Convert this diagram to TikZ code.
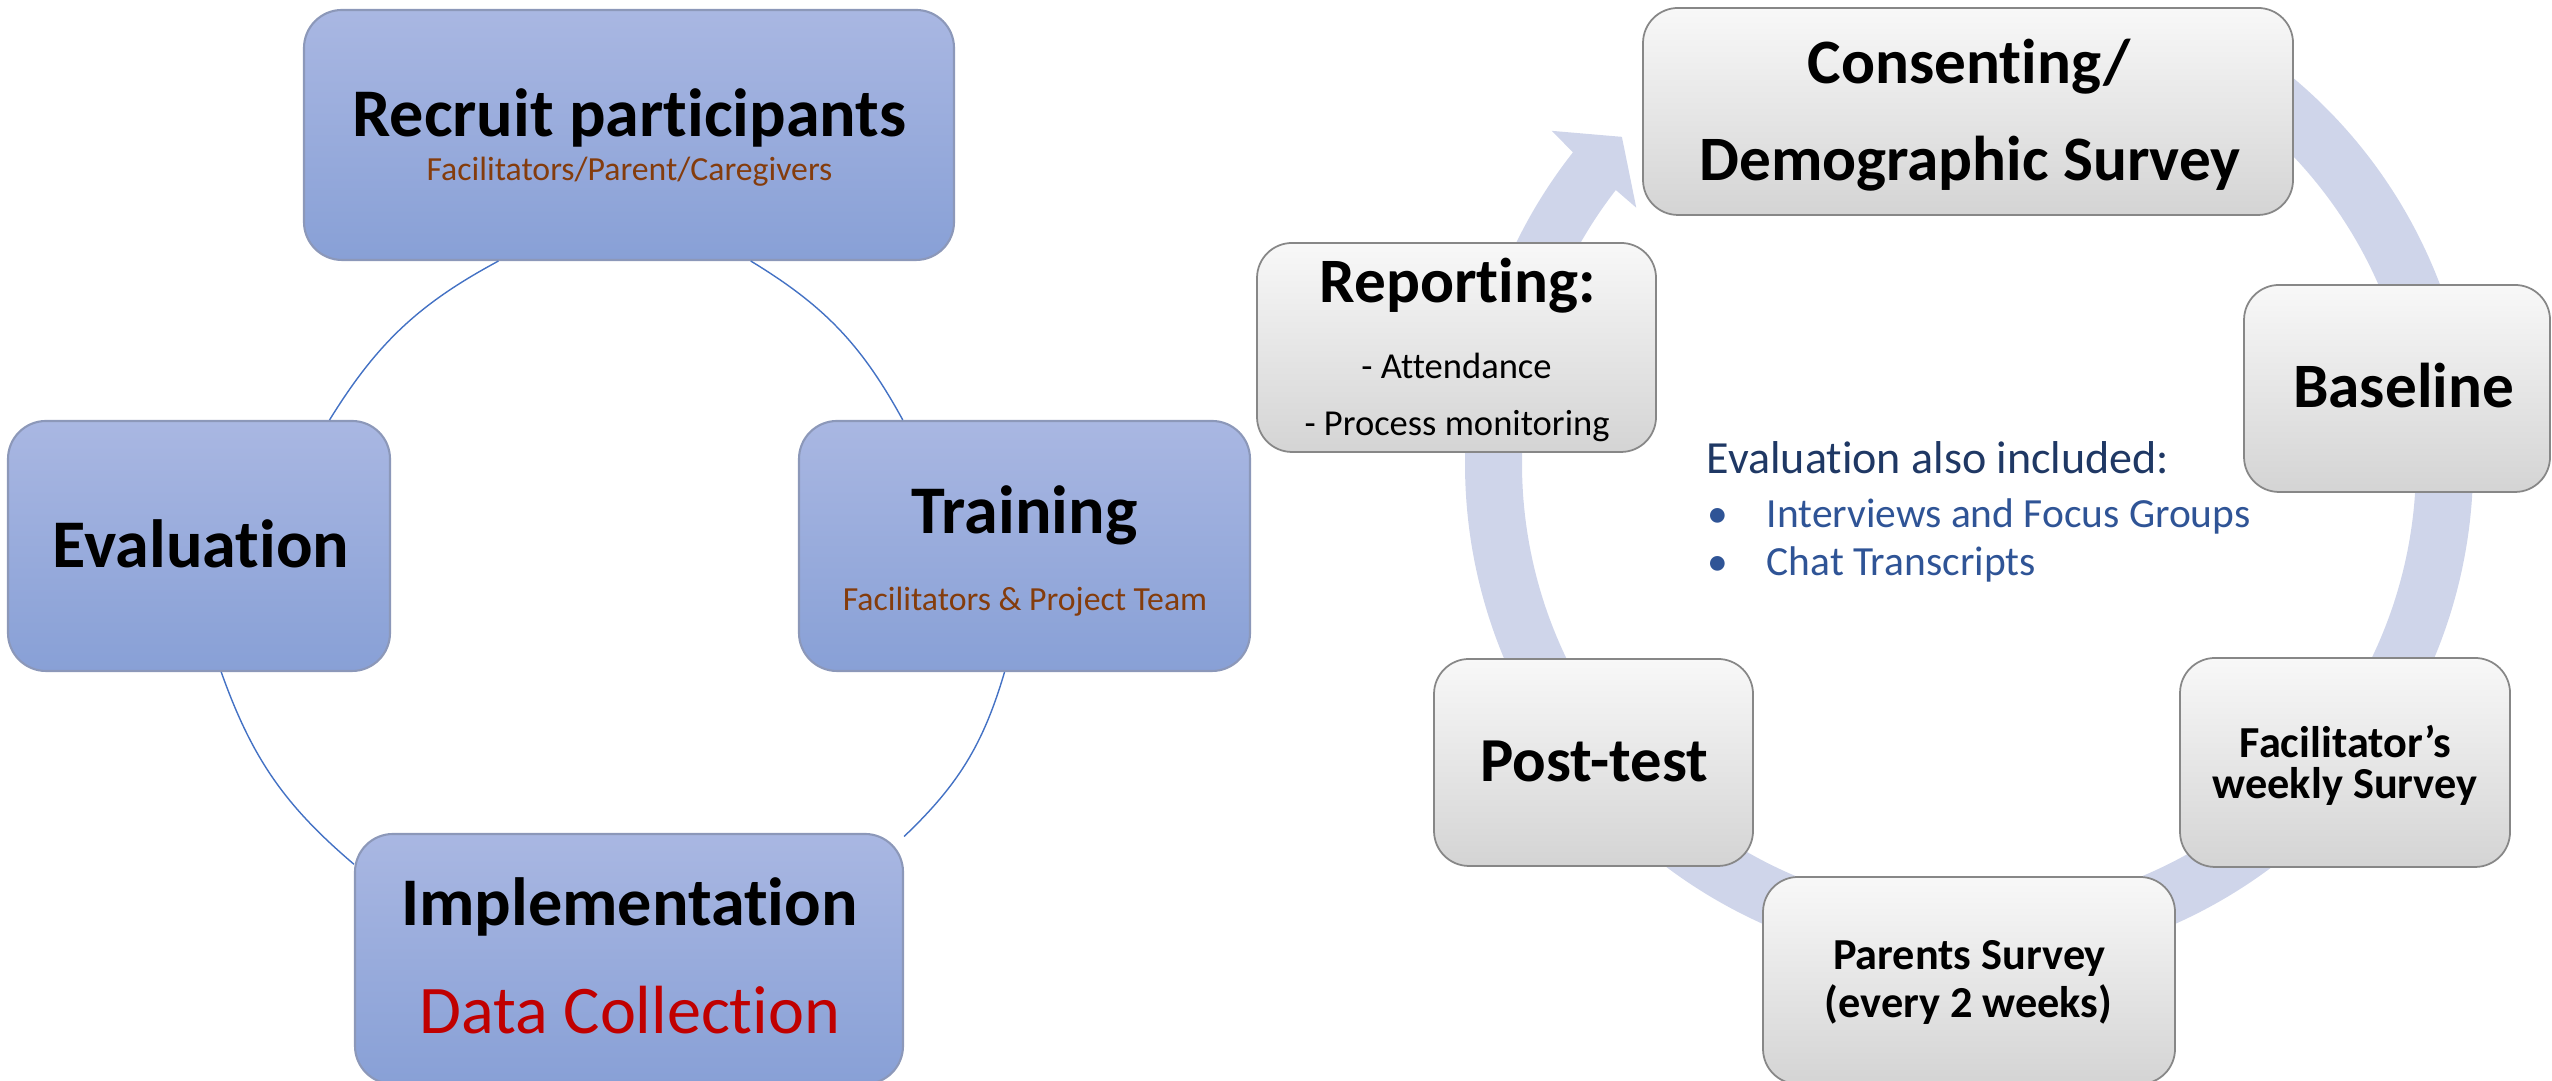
\documentclass[tikz,border=0pt]{standalone}
\usepackage{fontspec}
\setmainfont{Carlito}[Ligatures={TeX,NoCommon}]
\usetikzlibrary{calc}

\definecolor{boxtop}{RGB}{169,183,226}
\definecolor{boxbot}{RGB}{136,160,214}
\definecolor{boxline}{RGB}{140,152,185}
\definecolor{greytop}{RGB}{248,248,248}
\definecolor{greybot}{RGB}{212,212,212}
\definecolor{greyline}{RGB}{135,135,135}
\definecolor{ringfill}{RGB}{207,213,234}
\definecolor{arcblue}{RGB}{68,114,196}
\definecolor{subbrown}{RGB}{132,60,12}
\definecolor{datared}{RGB}{192,0,0}
\definecolor{notenavy}{RGB}{31,56,100}
\definecolor{itemblue}{RGB}{47,84,150}

\begin{document}
\begin{tikzpicture}[
  bluebox/.style={draw=boxline, line width=0.6pt, rounded corners=0.38cm, top color=boxtop, bottom color=boxbot},
  greybox/.style={draw=greyline, line width=0.5pt, rounded corners=0.35cm, top color=greytop, bottom color=greybot},
  cyclearc/.style={draw=arcblue, line width=0.4pt},
  bigbold/.style={anchor=base, inner sep=0pt, font=\bfseries\fontsize{19.4}{23}\selectfont},
  bigplain/.style={anchor=base, inner sep=0pt, font=\fontsize{19.4}{23}\selectfont},
  subtxt/.style={anchor=base, inner sep=0pt, text=subbrown, font=\fontsize{9.6}{12}\selectfont},
  greybig/.style={anchor=base, inner sep=0pt, font=\bfseries\fontsize{18}{22}\selectfont},
  greymid/.style={anchor=base, inner sep=0pt, font=\bfseries\fontsize{12.6}{15}\selectfont},
  greysmall/.style={anchor=base, inner sep=0pt, font=\fontsize{10.4}{13}\selectfont},
  notehead/.style={anchor=base west, inner sep=0pt, text=notenavy, font=\fontsize{13.1}{16}\selectfont},
  noteitem/.style={anchor=base west, inner sep=0pt, text=itemblue, font=\fontsize{11.8}{14}\selectfont},
]
\useasboundingbox (0,0) rectangle (25.52,10.81);

% left cycle
\node[bluebox, minimum width=6.50cm, minimum height=2.50cm] (recruit) at (6.29,9.46) {};
\node[bluebox, minimum width=3.82cm, minimum height=2.50cm] (evaluation) at (1.99,5.35) {};
\node[bluebox, minimum width=4.51cm, minimum height=2.50cm] (training) at (10.245,5.35) {};
\node[bluebox, minimum width=5.48cm, minimum height=2.50cm] (implementation) at (6.29,1.22) {};

\draw[cyclearc] (recruit.224) to[bend right=15] (evaluation.44);
\draw[cyclearc] (evaluation.-80) to[bend right=15] (implementation.161);
\draw[cyclearc] (implementation.24) to[bend right=15] (training.-99);
\draw[cyclearc] (training.134) to[bend right=15] (recruit.-46);

\node[bigbold] (recruitT) at (6.295,9.44) {Recruit participants};
\node[subtxt] (recruitS) at (6.295,9.00) {Facilitators/Parent/Caregivers};
\node[bigbold] (evaluationT) at (2.01,5.13) {Evaluation};
\node[bigbold] (trainingT) at (10.245,5.47) {Training};
\node[subtxt] (trainingS) at (10.25,4.70) {Facilitators \& Project Team};
\node[bigbold] (implementationT) at (6.295,1.55) {Implementation};
\node[bigplain, text=datared] (implementationS) at (6.30,0.47) {Data Collection};

% right cycle: ring arrow behind the boxes
\coordinate (ring) at (19.69,6.17);
\fill[ringfill] ($(ring)+(60:5.04)$) arc[start angle=60, end angle=-218.2, radius=5.04]
  -- ($(ring)+(-218.6:5.34)$) -- ($(ring)+(-223.3:4.77)$) -- ($(ring)+(-217.6:4.20)$)
  -- ($(ring)+(-217.8:4.47)$) arc[start angle=-217.8, end angle=60, radius=4.47] -- cycle;

\node[greybox, minimum width=6.50cm, minimum height=2.07cm] (consent) at (19.68,9.695) {};
\node[greybox, minimum width=3.99cm, minimum height=2.09cm] (reporting) at (14.565,7.335) {};
\node[greybox, minimum width=3.06cm, minimum height=2.07cm] (baseline) at (23.97,6.925) {};
\node[greybox, minimum width=3.30cm, minimum height=2.09cm] (weekly) at (23.45,3.185) {};
\node[greybox, minimum width=4.12cm, minimum height=2.07cm] (parents) at (19.69,1.005) {};
\node[greybox, minimum width=3.19cm, minimum height=2.07cm] (posttest) at (15.935,3.185) {};

\node[greybig] (consentA) at (19.69,9.97) {Consenting/};
\node[greybig] (consentB) at (19.70,9.00) {Demographic Survey};
\node[greybig] (reportingT) at (14.575,7.78) {Reporting:};
\node[greysmall] (reportingA) at (14.565,7.02) {- Attendance};
\node[greysmall] (reportingB) at (14.57,6.45) {- Process monitoring};
\node[greybig] (baselineT) at (24.035,6.735) {Baseline};
\node[greymid] (weeklyA) at (23.455,3.23) {Facilitator’s};
\node[greymid] (weeklyB) at (23.45,2.82) {weekly Survey};
\node[greymid] (parentsA) at (19.695,1.11) {Parents Survey};
\node[greymid] (parentsB) at (19.685,0.63) {(every 2 weeks)};
\node[greybig, font=\bfseries\fontsize{17.8}{22}\selectfont] (posttestT) at (15.94,2.99) {Post-test};

% note in the middle
\node[notehead] (noteT) at (17.06,6.07) {Evaluation also included:};
\node[noteitem] (bulletA) at (17.07,5.53) {•};
\node[noteitem] (noteA) at (17.66,5.53) {Interviews and Focus Groups};
\node[noteitem] (bulletB) at (17.07,5.05) {•};
\node[noteitem] (noteB) at (17.66,5.05) {Chat Transcripts};
\end{tikzpicture}
\end{document}
